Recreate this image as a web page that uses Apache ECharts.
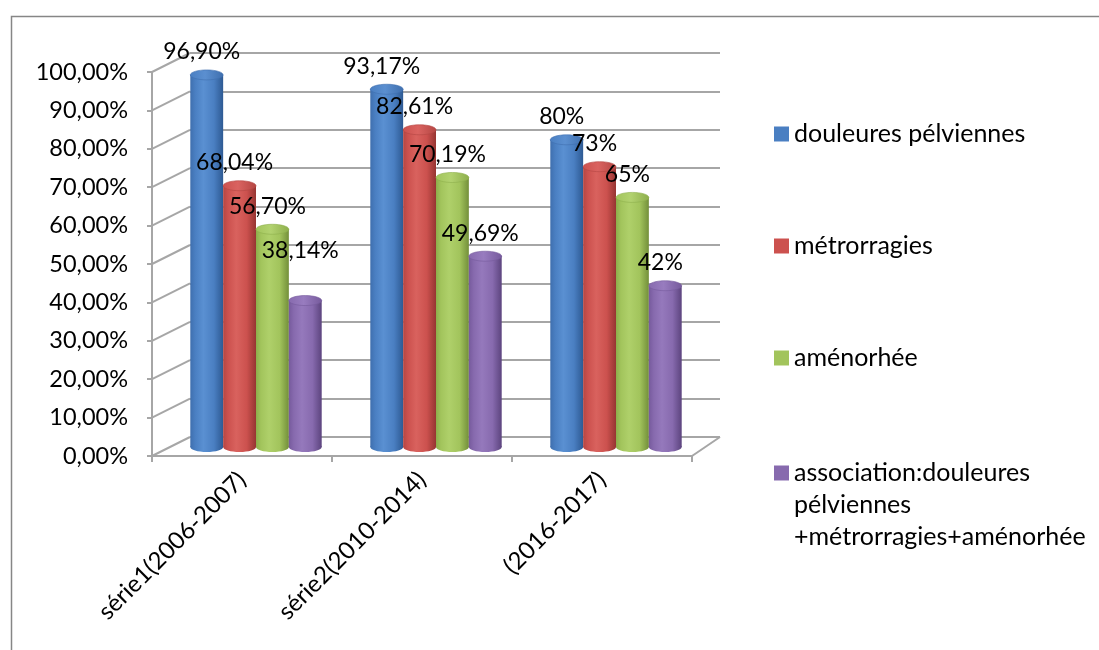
<!DOCTYPE html>
<html>
<head>
<meta charset="utf-8">
<script src="https://cdn.jsdelivr.net/npm/echarts@6/dist/echarts.min.js"></script>
<style>
  html, body { margin: 0; padding: 0; background: #fff; }
  #chart { width: 1099px; height: 650px; }
</style>
</head>
<body>
<div id="chart"></div>
<script>
// ---- data ----
const categories = ['série1(2006-2007)', 'série2(2010-2014)', '(2016-2017)'];
const seriesNames = [
  'douleures pélviennes',
  'métrorragies',
  'aménorhée',
  'association:douleures pélviennes +métrorragies+aménorhée'
];
const douleures = [96.90, 93.17, 80];
const metrorragies = [68.04, 82.61, 73];
const amenorhee = [56.70, 70.19, 65];
const association = [38.14, 49.69, 42];
const labelDecimals = [2, 2, 0];          // decimals shown per category
const yTicks = { min: 0, max: 100, step: 10 };

// ---- layout / style ----
const FONT = 'Lato';
const FS_AXIS = 23.5, FS_CAT = 24, FS_LABEL = 23, FS_LEGEND = 25;
const FRONT = { left: 152, top: 72, width: 540, height: 384 };
const BACK = { left: 190, top: 53, width: 530, height: 384 };
const MID = { left: 166, top: 63, width: 540, height: 384 };
const GRID_COLOR = '#a6a6a6';
const GROUP_FRACTION = 0.73;
const CAP_RY = 5;
const LABEL_DX = -5, LABEL_DY = -23;
const LABEL_NUDGE = { '3-0': -27 };       // series-category : extra vertical shift

const palette = [
  { base: '#4A7FC2', light: '#5A90D2', edge: '#3F6FAE', dark: '#2E5A93', cap: '#5B8FD0' },
  { base: '#CC514E', light: '#D9625E', edge: '#B44643', dark: '#963532', cap: '#DA6360' },
  { base: '#A2C45C', light: '#AFD06A', edge: '#8DAE4B', dark: '#738F3A', cap: '#B2D26F' },
  { base: '#876AAE', light: '#9579BC', edge: '#765A9C', dark: '#5C447E', cap: '#987CBF' }
];
const values = [douleures, metrorragies, amenorhee, association];

const fmtPct = (v, d) => v.toFixed(d).replace('.', ',') + '%';

function bodyGradient(c) {
  return new echarts.graphic.LinearGradient(0, 0, 1, 0, [
    { offset: 0, color: c.edge },
    { offset: 0.15, color: c.base },
    { offset: 0.4, color: c.light },
    { offset: 0.72, color: c.base },
    { offset: 1, color: c.dark }
  ]);
}
function capGradient(c) {
  return new echarts.graphic.LinearGradient(0, 0, 1, 0, [
    { offset: 0, color: c.base },
    { offset: 0.45, color: c.cap },
    { offset: 1, color: c.edge }
  ]);
}

function cylinderRenderer(s) {
  const c = palette[s];
  return function (params, api) {
    const cat = api.value(0);
    const val = api.value(1);
    const band = api.size([1, 0])[0];
    const groupW = band * GROUP_FRACTION;
    const barW = groupW / values.length;
    const basePt = api.coord([cat, 0]);
    const topY = api.coord([cat, val])[1];
    const x0 = basePt[0] - groupW / 2 + s * barW;
    const baseY = basePt[1];
    const cx = x0 + barW / 2;
    const rx = barW / 2;
    const nudge = LABEL_NUDGE[s + '-' + cat] || 0;
    return {
      type: 'group',
      children: [
        { type: 'ellipse', shape: { cx: cx, cy: baseY, rx: rx, ry: CAP_RY }, style: { fill: bodyGradient(c) } },
        { type: 'rect', shape: { x: x0, y: topY, width: barW, height: baseY - topY }, style: { fill: bodyGradient(c) } },
        { type: 'ellipse', shape: { cx: cx, cy: topY, rx: rx, ry: CAP_RY }, style: { fill: capGradient(c), stroke: c.edge, lineWidth: 0.6 } },
        {
          type: 'text', z2: 20,
          style: {
            text: fmtPct(val, labelDecimals[cat]),
            x: cx + LABEL_DX, y: topY + LABEL_DY + nudge,
            align: 'center', verticalAlign: 'middle',
            fontFamily: FONT, fontSize: FS_LABEL, fill: '#000'
          }
        }
      ]
    };
  };
}

const tickValues = [];
for (let v = yTicks.min; v <= yTicks.max; v += yTicks.step) tickValues.push(v);

// side-wall and floor-edge lines joining the back wall to the front axes
function frameRenderer(params, api) {
  const dx = FRONT.left - BACK.left;
  const dy = FRONT.top - BACK.top;
  const kind = api.value(0);
  const v = api.value(1);
  let p, q;
  if (kind === 0) {
    p = api.coord([0, v]);
    q = [p[0] + dx, p[1] + dy];
  } else {
    p = api.coord([categories.length, v]);
    q = [FRONT.left + FRONT.width, FRONT.top + FRONT.height];
  }
  return {
    type: 'line',
    shape: { x1: p[0], y1: p[1], x2: q[0], y2: q[1] },
    style: { stroke: GRID_COLOR, lineWidth: 2 }
  };
}

const frameData = tickValues.map(v => [0, v]).concat([[1, 0]]);

const chart = echarts.init(document.getElementById('chart'), null, { renderer: 'canvas' });

const legendText = { fontFamily: FONT, fontSize: FS_LEGEND, color: '#000' };

chart.setOption({
  animation: false,
  backgroundColor: '#fff',
  textStyle: { fontFamily: FONT },
  graphic: [{
    type: 'rect', left: 9, top: 14, silent: true,
    shape: { width: 1200, height: 700 },
    style: { fill: 'none', stroke: '#868686', lineWidth: 1.5 }
  }],
  grid: [
    { left: BACK.left, top: BACK.top, width: BACK.width, height: BACK.height },
    { left: FRONT.left, top: FRONT.top, width: FRONT.width, height: FRONT.height },
    { left: MID.left, top: MID.top, width: MID.width, height: MID.height }
  ],
  xAxis: [
    { gridIndex: 0, type: 'value', min: 0, max: categories.length, show: false },
    {
      gridIndex: 1, type: 'category', data: categories, boundaryGap: true,
      axisLine: { show: true, lineStyle: { color: GRID_COLOR, width: 2 } },
      axisTick: { show: true, length: 6, lineStyle: { color: GRID_COLOR, width: 2 } },
      axisLabel: { rotate: 45, margin: 20, color: '#000', fontFamily: FONT, fontSize: FS_CAT },
      splitLine: { show: false }
    },
    { gridIndex: 2, type: 'category', data: categories, show: false }
  ],
  yAxis: [
    {
      gridIndex: 0, type: 'value', min: yTicks.min, max: yTicks.max, interval: yTicks.step,
      axisLine: { show: false }, axisTick: { show: false }, axisLabel: { show: false },
      splitLine: { show: true, lineStyle: { color: GRID_COLOR, width: 2 } }
    },
    {
      gridIndex: 1, type: 'value', min: yTicks.min, max: yTicks.max, interval: yTicks.step,
      axisLine: { show: true, lineStyle: { color: GRID_COLOR, width: 2 } },
      axisTick: { show: true, length: 5, lineStyle: { color: GRID_COLOR, width: 2 } },
      axisLabel: { margin: 24, color: '#000', fontFamily: FONT, fontSize: FS_AXIS, formatter: v => fmtPct(v, 2) },
      splitLine: { show: false }
    },
    { gridIndex: 2, type: 'value', min: yTicks.min, max: yTicks.max, show: false }
  ],
  legend: [
    {
      data: seriesNames.slice(0, 3),
      orient: 'vertical', left: 774, top: 119, padding: 0,
      itemWidth: 15, itemHeight: 15, itemGap: 82, icon: 'rect',
      textStyle: Object.assign({ lineHeight: 30 }, legendText)
    },
    {
      data: [seriesNames[3]],
      orient: 'vertical', left: 774, top: 393, padding: 0,
      itemWidth: 15, itemHeight: 15, icon: 'rect',
      formatter: () => '\n\nassociation:douleures\npélviennes\n+métrorragies+aménorhée',
      textStyle: Object.assign({ lineHeight: 32 }, legendText)
    }
  ],
  series: [
    {
      type: 'custom', name: 'frame', xAxisIndex: 0, yAxisIndex: 0, silent: true, z: 1,
      renderItem: frameRenderer, data: frameData
    }
  ].concat(values.map((arr, s) => ({
    type: 'custom',
    name: seriesNames[s],
    xAxisIndex: 2, yAxisIndex: 2, z: 3,
    itemStyle: { color: palette[s].base },
    renderItem: cylinderRenderer(s),
    data: arr.map((v, i) => [i, v])
  })))
});
</script>
</body>
</html>
